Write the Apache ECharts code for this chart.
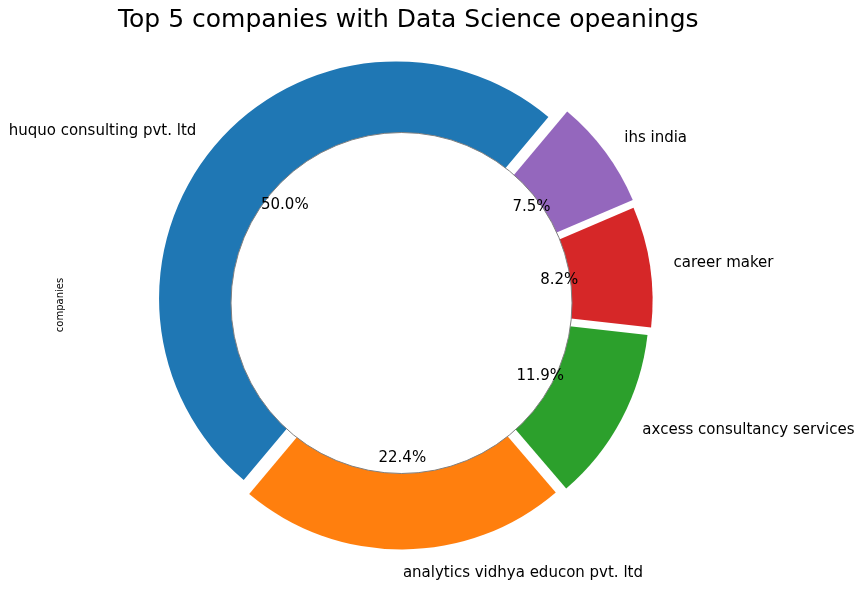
<!DOCTYPE html>
<html>
<head>
<meta charset="utf-8">
<script src="https://cdn.jsdelivr.net/npm/echarts@6/dist/echarts.min.js"></script>
<style>
  html, body { margin: 0; padding: 0; background: #fff; }
  #chart { width: 863px; height: 589px; }
</style>
</head>
<body>
<div id="chart"></div>
<script>
// ---- data ----
const categories = [
  'huquo consulting pvt. ltd',
  'analytics vidhya educon pvt. ltd',
  'axcess consultancy services',
  'career maker',
  'ihs india'
];
const openings = [67, 30, 16, 11, 10];
const colors = ['#1f77b4', '#ff7f0e', '#2ca02c', '#d62728', '#9467bd'];
const explode = [0.03, 0.04, 0.05, 0.06, 0.07];
const titleText = 'Top 5 companies with Data Science opeanings';
const yLabel = 'companies';

// ---- layout ----
const CX = 401.5, CY = 303, R = 237, HOLE = 170.5;
const FONT = 'DejaVu Sans';
const total = openings.reduce((a, b) => a + b, 0);

const series = [];
categories.forEach((name, i) => {
  // wedge + outer label
  series.push({
    type: 'pie', z: 2, center: [CX, CY], radius: [0, R],
    startAngle: 50, clockwise: false,
    selectedMode: 'multiple', selectedOffset: explode[i] * R,
    avoidLabelOverlap: false, animation: false, silent: true,
    emphasis: { disabled: true },
    itemStyle: { borderWidth: 0 },
    label: {
      position: 'outside', formatter: '{b}', color: '#000',
      fontSize: 15, fontFamily: FONT, distanceToLabelLine: 0,
      padding: [4, 0, 0, 0]
    },
    labelLine: { show: false, length: 0.1 * R, length2: 0 },
    data: categories.map((n, j) => ({
      name: n, value: openings[j], selected: j === i,
      itemStyle: { color: j === i ? colors[j] : 'rgba(0,0,0,0)' },
      label: { show: j === i }
    }))
  });
  // percentage label (transparent, radius 1.2R so 'inside' lands at 0.6R)
  series.push({
    type: 'pie', z: 4, center: [CX, CY], radius: [0, 1.2 * R],
    startAngle: 50, clockwise: false,
    selectedMode: 'multiple', selectedOffset: explode[i] * R,
    avoidLabelOverlap: false, animation: false, silent: true,
    emphasis: { disabled: true },
    itemStyle: { borderWidth: 0, color: 'rgba(0,0,0,0)' },
    label: {
      position: 'inside', color: '#000', fontSize: 15, fontFamily: FONT,
      padding: [3, 0, 0, 0],
      formatter: p => (p.value / total * 100).toFixed(1) + '%'
    },
    labelLine: { show: false },
    data: categories.map((n, j) => ({
      name: n, value: openings[j], selected: j === i,
      label: { show: j === i }
    }))
  });
});
// white centre circle
series.push({
  type: 'pie', z: 3, center: [CX, CY], radius: [0, HOLE],
  animation: false, silent: true, emphasis: { disabled: true },
  label: { show: false }, labelLine: { show: false },
  itemStyle: { color: '#ffffff', borderColor: '#808080', borderWidth: 1 },
  data: [{ name: 'hole', value: 1 }]
});

const chart = echarts.init(document.getElementById('chart'));
chart.setOption({
  backgroundColor: '#fff',
  animation: false,
  title: {
    text: titleText, left: 113, top: 3,
    textStyle: { fontSize: 25, fontWeight: 'normal', color: '#000', fontFamily: FONT }
  },
  graphic: [{
    type: 'text', x: 60, y: 305, rotation: Math.PI / 2,
    style: { text: yLabel, fontSize: 10, fontFamily: FONT, fill: '#000',
             align: 'center', verticalAlign: 'middle' }
  }],
  series: series
});
</script>
</body>
</html>
